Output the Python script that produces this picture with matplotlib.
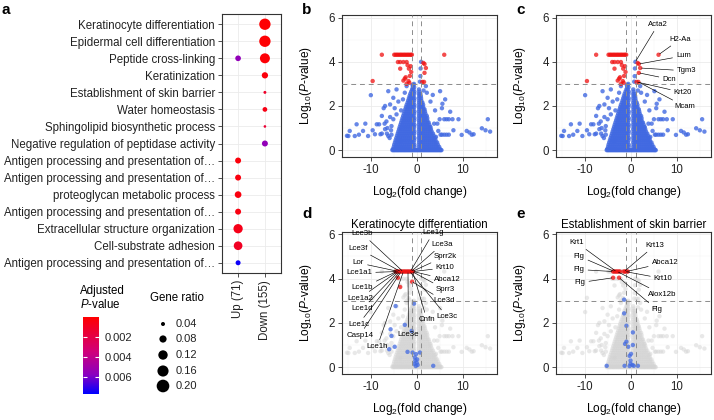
import numpy as np
import matplotlib
matplotlib.use("Agg")
import matplotlib.pyplot as plt
from matplotlib.colors import LinearSegmentedColormap, Normalize
from matplotlib.cm import ScalarMappable

plt.rcParams['font.family'] = ['Liberation Sans', 'DejaVu Sans']
plt.rcParams['mathtext.fontset'] = 'custom'
plt.rcParams['mathtext.rm'] = 'Liberation Sans'
plt.rcParams['mathtext.it'] = 'Liberation Sans:italic'
plt.rcParams['axes.unicode_minus'] = False

# ---------------- panel a : GO terms ----------------
terms = ["Keratinocyte differentiation",
         "Epidermal cell differentiation",
         "Peptide cross-linking",
         "Keratinization",
         "Establishment of skin barrier",
         "Water homeostasis",
         "Sphingolipid biosynthetic process",
         "Negative regulation of peptidase activity",
         "Antigen processing and presentation of\u2026",
         "Antigen processing and presentation of\u2026",
         "proteoglycan metabolic process",
         "Antigen processing and presentation of\u2026",
         "Extracellular structure organization",
         "Cell-substrate adhesion",
         "Antigen processing and presentation of\u2026"]
groups = ["Up (71)", "Down (155)"]
up_ratio = [None, None, 0.058, None, None, None, None, None,
            0.062, 0.062, 0.072, 0.062, 0.118, 0.106, 0.050]
up_padj = [None, None, 0.0055, None, None, None, None, None,
           0.0003, 0.0004, 0.0004, 0.0005, 0.0007, 0.0010, 0.0075]
down_ratio = [0.165, 0.165, 0.133, 0.066, 0.032, 0.047, 0.030, 0.062,
              None, None, None, None, None, None, None]
down_padj = [0.0001, 0.0001, 0.0002, 0.0003, 0.0012, 0.0006, 0.0015, 0.0055,
             None, None, None, None, None, None, None]
legend_ratios = [0.04, 0.08, 0.12, 0.16, 0.20]
cbar_ticks = [0.002, 0.004, 0.006]

# ---------------- volcano data (log2FC, -log10 P) ----------------
bottom_row_x = [-5.3, -5.05, -4.8, -4.55, -4.3, -4.05, -3.8, -3.55, -3.3, -3.05,
                -2.8, -2.55, -2.3, -2.05, -1.8, -1.55, -1.3, -1.05, -0.8, -0.55,
                -0.3, -0.05, 0.2, 0.45, 0.7, 0.95, 1.2, 1.45, 1.7, 1.95,
                2.2, 2.45, 2.7, 2.95, 3.2, 3.45, 3.7, 3.95, 4.2, 4.45,
                4.7, 4.95, 5.2, 5.4]
core_levels = [0.05, 0.15, 0.25, 0.35, 0.45, 0.55, 0.65, 0.75, 0.85, 0.95,
               1.05, 1.15, 1.25, 1.35, 1.45, 1.55, 1.65, 1.75, 1.85, 1.95,
               2.05, 2.15, 2.25, 2.35, 2.45, 2.55, 2.65, 2.75, 2.85, 2.95]
core_left = [
    [-5.2, -4.75, -4.3, -3.85, -3.4, -2.95, -2.5, -2.05, -1.6, -1.15, -0.7],
    [-5.0, -4.55, -4.1, -3.65, -3.2, -2.75, -2.3, -1.85, -1.4, -0.95, -0.5],
    [-4.9, -4.45, -4.0, -3.55, -3.1, -2.65, -2.2, -1.75, -1.3, -0.85, -0.5],
    [-4.75, -4.3, -3.85, -3.4, -2.95, -2.5, -2.05, -1.6, -1.15, -0.7],
    [-4.6, -4.15, -3.7, -3.25, -2.8, -2.35, -1.9, -1.45, -1.0, -0.55],
    [-4.45, -4.0, -3.55, -3.1, -2.65, -2.2, -1.75, -1.3, -0.85, -0.5],
    [-4.3, -3.85, -3.4, -2.95, -2.5, -2.05, -1.6, -1.15, -0.7],
    [-4.15, -3.7, -3.25, -2.8, -2.35, -1.9, -1.45, -1.0, -0.55],
    [-4.0, -3.55, -3.1, -2.65, -2.2, -1.75, -1.3, -0.85, -0.5],
    [-3.85, -3.4, -2.95, -2.5, -2.05, -1.6, -1.15, -0.7],
    [-3.7, -3.25, -2.8, -2.35, -1.9, -1.45, -1.0, -0.55],
    [-3.55, -3.1, -2.65, -2.2, -1.75, -1.3, -0.85, -0.5],
    [-3.4, -2.95, -2.5, -2.05, -1.6, -1.15, -0.7],
    [-3.25, -2.8, -2.35, -1.9, -1.45, -1.0, -0.55],
    [-3.1, -2.65, -2.2, -1.75, -1.3, -0.85, -0.5],
    [-2.95, -2.5, -2.05, -1.6, -1.15, -0.7],
    [-2.8, -2.35, -1.9, -1.45, -1.0, -0.55],
    [-2.65, -2.2, -1.75, -1.3, -0.85, -0.5],
    [-2.5, -2.05, -1.6, -1.15, -0.7],
    [-2.35, -1.9, -1.45, -1.0, -0.55],
    [-2.2, -1.75, -1.3, -0.85, -0.5],
    [-2.0, -1.6, -1.15, -0.7],
    [-1.85, -1.45, -1.0, -0.55],
    [-1.7, -1.3, -0.85, -0.5],
    [-1.55, -1.15, -0.7],
    [-1.4, -1.0, -0.55],
    [-1.2, -0.85, -0.5],
    [-1.0, -0.7],
    [-0.85, -0.55],
    [-0.7],
]
core_right = [
    [0.6, 1.05, 1.5, 1.95, 2.4, 2.85, 3.3, 3.75, 4.2, 4.65, 5.1],
    [0.5, 0.95, 1.4, 1.85, 2.3, 2.75, 3.2, 3.65, 4.1, 4.55, 4.9],
    [0.55, 1.0, 1.45, 1.9, 2.35, 2.8, 3.25, 3.7, 4.15, 4.6],
    [0.5, 0.95, 1.4, 1.85, 2.3, 2.75, 3.2, 3.65, 4.1, 4.45],
    [0.55, 1.0, 1.45, 1.9, 2.35, 2.8, 3.25, 3.7, 4.1],
    [0.5, 0.95, 1.4, 1.85, 2.3, 2.75, 3.2, 3.65, 4.0],
    [0.55, 1.0, 1.45, 1.9, 2.35, 2.8, 3.25, 3.7],
    [0.5, 0.95, 1.4, 1.85, 2.3, 2.75, 3.2, 3.55],
    [0.55, 1.0, 1.45, 1.9, 2.35, 2.8, 3.25],
    [0.5, 0.95, 1.4, 1.85, 2.3, 2.75, 3.1],
    [0.55, 1.0, 1.45, 1.9, 2.35, 2.8, 3.0],
    [0.5, 0.95, 1.4, 1.85, 2.3, 2.75],
    [0.55, 1.0, 1.45, 1.9, 2.35, 2.6],
    [0.5, 0.95, 1.4, 1.85, 2.3],
    [0.55, 1.0, 1.45, 1.9, 2.3],
    [0.5, 0.95, 1.4, 1.85, 2.2],
    [0.55, 1.0, 1.45, 1.9],
    [0.5, 0.95, 1.4, 1.8],
    [0.55, 1.0, 1.45, 1.7],
    [0.5, 0.95, 1.4],
    [0.55, 1.0, 1.4],
    [0.5, 0.95, 1.25],
    [0.55, 1.0],
    [0.5, 0.95],
    [0.55, 0.9],
    [0.5, 0.8],
    [0.55],
    [0.5],
    [],
    [],
]
scatter_left = [(-15.2, 0.65), (-14.9, 0.64), (-14.6, 0.87), (-13.5, 0.64), (-13.1, 1.17),
                (-12.6, 0.70), (-11.7, 0.87), (-11.2, 1.20), (-10.6, 0.64), (-10.0, 2.49),
                (-9.6, 0.90), (-9.1, 0.72), (-8.7, 1.17), (-8.2, 1.17), (-7.9, 0.72),
                (-7.6, 1.55), (-7.6, 0.75), (-7.2, 1.90), (-6.9, 2.00), (-6.9, 0.95),
                (-6.6, 1.30), (-6.2, 2.67), (-6.2, 0.64), (-5.8, 2.07), (-5.8, 1.50),
                (-5.5, 1.09), (-5.5, 0.70), (-5.1, 2.37), (-5.1, 1.40), (-4.8, 1.90),
                (-4.4, 2.75), (-4.4, 1.62), (-4.0, 2.20), (-3.6, 0.42), (-3.4, 1.80),
                (-3.0, 2.30), (-2.6, 2.60), (-2.2, 2.90), (-6.4, 1.00), (-7.0, 1.20),
                (-5.6, 0.90), (-5.9, 0.55), (-6.5, 0.75), (-0.6, 3.00), (-0.9, 2.95)]
scatter_right = [(5.1, 2.67), (6.2, 2.30), (5.6, 2.10), (7.3, 1.74), (5.5, 1.90),
                 (6.5, 1.40), (9.1, 1.40), (15.5, 1.40), (10.9, 0.87), (12.4, 0.72),
                 (14.2, 0.99), (16.0, 0.84), (9.8, 0.69), (4.7, 0.87), (5.0, 1.40),
                 (6.0, 1.40), (7.0, 1.40), (7.8, 1.40), (4.5, 1.20), (5.2, 0.70),
                 (5.5, 0.70), (6.0, 0.70), (6.5, 0.70), (7.0, 0.70), (8.0, 0.90),
                 (12.0, 0.70), (11.5, 0.80), (15.0, 0.90), (3.5, 2.50), (3.0, 2.20),
                 (2.2, 2.60), (4.0, 1.80), (3.8, 1.20), (4.2, 0.60), (1.5, 2.70),
                 (2.0, 2.90), (0.95, 4.00), (0.85, 3.70), (0.80, 3.35), (0.70, 3.10)]
sig_down = [(-7.6, 4.32), (-4.9, 4.32), (-4.6, 4.32), (-4.3, 4.32), (-4.0, 4.32),
            (-3.7, 4.32), (-3.4, 4.32), (-3.1, 4.32), (-2.8, 4.32), (-2.5, 4.32),
            (-2.2, 4.32), (-1.9, 4.32), (-1.6, 4.32), (-1.3, 4.32), (-1.05, 4.32),
            (-4.1, 3.99), (-3.6, 3.99), (-2.9, 3.99), (-2.2, 3.99), (-1.7, 3.69),
            (-3.6, 3.69), (-2.6, 3.24), (-2.2, 3.00), (-1.5, 3.36), (-1.2, 3.54),
            (-9.6, 3.13), (-1.8, 3.13), (-1.3, 3.80), (-2.0, 3.85), (-2.4, 3.30),
            (-1.6, 3.05), (-2.9, 3.15)]
sig_up = [(6.0, 4.32), (1.45, 3.95), (1.7, 3.90), (2.0, 3.72), (1.7, 3.50),
          (1.2, 3.09), (1.6, 3.09)]

# panel c labels: name, label position, labelled point
c_names = ["Acta2", "H2-Aa", "Lum", "Tgm3", "Dcn", "Krt20", "Mcam"]
c_text = [(5.9, 5.69), (10.7, 5.02), (11.4, 4.27), (12.1, 3.59), (8.3, 3.22), (11.3, 2.61), (11.8, 1.97)]
c_point = [(0.95, 4.00), (6.0, 4.32), (1.7, 3.90), (2.0, 3.72), (1.7, 3.50), (1.2, 3.09), (1.6, 3.09)]

# panel d: keratinocyte differentiation genes
d_red = [(-4.6, 4.32), (-4.3, 4.32), (-4.0, 4.32), (-3.7, 4.32), (-3.4, 4.32), (-3.1, 4.32),
         (-2.8, 4.32), (-2.5, 4.32), (-2.2, 4.32), (-1.9, 4.32), (-1.6, 4.32), (-1.3, 4.32),
         (-1.0, 4.32), (-0.8, 4.32), (-4.1, 4.04), (-3.6, 3.62), (-1.0, 3.86)]
d_blue = [(-4.6, 2.76), (-5.7, 1.71), (-5.5, 1.41), (-6.0, 0.81), (-4.8, 0.92), (-2.6, 1.91),
          (-0.6, 2.87), (-1.1, 1.64), (-2.0, 0.69), (-0.9, 0.66), (-0.4, 0.44), (-0.3, 0.30),
          (0.0, 0.20), (0.2, 0.10), (-0.2, 0.05), (0.1, 0.35), (3.6, 0.06), (0.7, 0.66),
          (-0.5, 0.15), (-0.15, 0.59)]
d_names = ["Lce3b", "Lce3f", "Lor", "Lce1a1", "Lce1b", "Lce1a2", "Lce1d", "Lce1c",
           "Casp14", "Lce1h", "Lce3e", "Cnfn", "Lce1g", "Lce3a", "Sprr2k", "Krt10",
           "Abca12", "Sprr3", "Lce3d", "Lce3c"]
d_text = [(-11.8, 6.02), (-12.7, 5.36), (-12.7, 4.71), (-12.5, 4.26), (-11.8, 3.59),
          (-12.4, 3.12), (-11.8, 2.64), (-12.7, 1.94), (-12.4, 1.44), (-8.6, 0.93),
          (-1.8, 1.49), (2.2, 2.16), (3.6, 6.07), (5.5, 5.54), (6.2, 5.01),
          (6.2, 4.49), (6.6, 3.96), (6.2, 3.51), (6.0, 2.99), (6.6, 2.28)]
d_point = [(-3.0, 4.32), (-3.5, 4.32), (-3.9, 4.32), (-4.2, 4.32), (-4.4, 4.32),
           (-4.2, 4.32), (-4.0, 4.32), (-3.7, 4.32), (-3.4, 4.32), (-2.9, 4.32),
           (-1.9, 4.32), (-0.9, 4.32), (-1.4, 4.32), (-1.2, 4.32), (-1.0, 4.32),
           (-0.8, 4.32), (-0.8, 4.32), (-1.0, 4.32), (-1.0, 3.86), (-1.5, 4.32)]

# panel e: skin barrier genes
e_red = [(-3.9, 4.32), (-3.6, 4.32), (-3.3, 4.32), (-3.0, 4.32), (-2.7, 4.32), (-2.4, 4.32),
         (-1.6, 4.32), (-1.3, 4.32), (-1.0, 4.32), (-0.7, 4.32), (-3.9, 4.04), (-2.6, 4.04)]
e_blue = [(-1.5, 3.05), (-1.5, 2.43), (-1.0, 1.87), (-1.0, 1.15), (-1.3, 1.05), (-0.6, 0.92),
          (0.4, 1.57), (0.4, 1.00), (-0.3, 0.51), (-0.1, 0.30), (-0.1, 0.15), (0.3, 0.10),
          (-0.3, 0.05), (-1.4, 0.06), (-5.3, 0.06), (1.5, 0.06), (0.6, 0.06), (0.0, 0.60)]
e_names = ["Krt1", "Flg", "Flg", "Flg", "Krt13", "Abca12", "Krt10", "Alox12b", "Flg"]
e_text = [(-11.8, 5.62), (-11.3, 5.01), (-11.3, 4.41), (-11.1, 3.82), (5.2, 5.50),
          (7.4, 4.72), (7.0, 4.00), (6.7, 3.29), (5.6, 2.61)]
e_point = [(-3.2, 4.32), (-3.6, 4.32), (-3.9, 4.32), (-3.9, 4.04), (-1.5, 4.32),
           (-1.0, 4.32), (-1.3, 4.32), (-3.0, 4.32), (-2.6, 4.04)]

# ---------------- build point sets ----------------
bg_x = list(bottom_row_x)
bg_y = [0.0 for _ in bottom_row_x]
for lev, xs in zip(core_levels, core_left):
    bg_x += xs
    bg_y += [lev] * len(xs)
for lev, xs in zip(core_levels, core_right):
    bg_x += xs
    bg_y += [lev] * len(xs)
for x, y in scatter_left + scatter_right:
    bg_x.append(x)
    bg_y.append(y)
sig = np.array(sig_down + sig_up)
all_x = np.array(bg_x + list(sig[:, 0]))
all_y = np.array(bg_y + list(sig[:, 1]))

BLUE = '#4169E1'
RED = '#F01010'
GREY = '#D3D3D3'
PT = 10

fig = plt.figure(figsize=(7.14, 4.2), dpi=100)


def volcano_axes(rect, title=None):
    ax = fig.add_axes(rect)
    ax.set_xlim(-16.35, 17.5)
    ax.set_ylim(-0.31, 6.12)
    ax.set_xticks([-10, 0, 10])
    ax.set_yticks([0, 2, 4, 6])
    ax.set_xticks([-15, -5, 5, 15], minor=True)
    ax.set_yticks([1, 3, 5], minor=True)
    ax.grid(which='major', color='#EBEBEB', lw=0.6)
    ax.grid(which='minor', color='#F3F3F3', lw=0.35)
    ax.set_axisbelow(True)
    ax.tick_params(which='minor', length=0)
    ax.tick_params(which='major', length=3, width=0.6, color='#333333',
                   labelsize=8.3, labelcolor='#222222', pad=2)
    for s in ax.spines.values():
        s.set_color('#333333')
        s.set_linewidth(0.8)
    ax.set_xlabel(r'Log$_2$(fold change)', fontsize=8.6)
    ax.set_ylabel(r'Log$_{10}$($P$-value)', fontsize=8.6)
    ax.xaxis.set_label_coords(0.5, -0.19)
    ax.yaxis.set_label_coords(-0.18, 0.5)
    if title:
        ax.set_title(title, fontsize=8.3, pad=3)
    return ax


def thresholds(ax):
    dash = dict(color='#8C8C8C', lw=0.7, ls=(0, (5, 4)), zorder=4)
    ax.axvline(-1, **dash)
    ax.axvline(1, **dash)
    ax.axhline(3, **dash)


def label_genes(ax, names, texts, points, size):
    for name, (tx, ty), (px, py) in zip(names, texts, points):
        ax.annotate(name, xy=(px, py), xytext=(tx, ty), fontsize=size,
                    ha='center', va='center', zorder=6,
                    arrowprops=dict(arrowstyle='-', lw=0.45, color='black',
                                    shrinkA=0.5, shrinkB=1))


b_rect = [341.7 / 714, 263 / 420, 155.3 / 714, 142 / 420]
c_rect = [556 / 714, 263 / 420, 155.3 / 714, 142 / 420]
d_rect = [341.7 / 714, 46 / 420, 155.3 / 714, 142.3 / 420]
e_rect = [556 / 714, 46 / 420, 155.3 / 714, 142.3 / 420]

for rect, labelled in [(b_rect, False), (c_rect, True)]:
    ax = volcano_axes(rect)
    ax.scatter(bg_x, bg_y, s=PT, color=BLUE, alpha=0.8, edgecolors='none', zorder=2)
    ax.scatter(sig[:, 0], sig[:, 1], s=PT, color=RED, alpha=0.75, edgecolors='none', zorder=3)
    thresholds(ax)
    if labelled:
        label_genes(ax, c_names, c_text, c_point, 5.5)

for rect, title, red, blue, names, texts, points in [
        (d_rect, "Keratinocyte differentiation", d_red, d_blue, d_names, d_text, d_point),
        (e_rect, "Establishment of skin barrier", e_red, e_blue, e_names, e_text, e_point)]:
    ax = volcano_axes(rect, title)
    ax.scatter(all_x, all_y, s=PT, color=GREY, alpha=0.5, edgecolors='none', zorder=2)
    b = np.array(blue)
    r = np.array(red)
    ax.scatter(b[:, 0], b[:, 1], s=PT, color=BLUE, alpha=0.75, edgecolors='none', zorder=3)
    ax.scatter(r[:, 0], r[:, 1], s=PT, color=RED, alpha=0.75, edgecolors='none', zorder=3)
    thresholds(ax)
    label_genes(ax, names, texts, points, 5.7)

# ---------------- panel a ----------------
cmap = LinearSegmentedColormap.from_list(
    'padj', [(0.0, '#FF0000'), (0.45, '#D0007A'), (0.75, '#8A00C0'), (1.0, '#0000FF')])
norm = Normalize(0.0, 0.0077)


def dot_size(r):
    return 466.6 * np.asarray(r, dtype=float) - 10.4


axa = fig.add_axes([222 / 714, 147 / 420, 59 / 714, 259 / 420])
rows = np.arange(1, len(terms) + 1)
for col, ratios, padj in [(1, up_ratio, up_padj), (2, down_ratio, down_padj)]:
    idx = [i for i, v in enumerate(ratios) if v is not None]
    axa.scatter([col] * len(idx), rows[idx], s=dot_size([ratios[i] for i in idx]),
                c=[padj[i] for i in idx], cmap=cmap, norm=norm,
                edgecolors='none', zorder=3)
axa.set_xlim(0.4, 2.6)
axa.set_ylim(15.6, 0.4)
axa.set_xticks([1, 2])
axa.set_xticklabels(groups, rotation=90, fontsize=8.3, color='#222222')
axa.set_yticks(rows)
axa.set_yticklabels(terms, fontsize=8.3, color='#222222')
axa.grid(color='#EBEBEB', lw=0.6)
axa.set_axisbelow(True)
axa.tick_params(length=3, width=0.6, color='#333333', pad=2)
for s in axa.spines.values():
    s.set_color('#333333')
    s.set_linewidth(0.8)

# colour bar legend
cax = fig.add_axes([83 / 714, 26 / 420, 16 / 714, 77 / 420])
cb = fig.colorbar(ScalarMappable(norm=norm, cmap=cmap), cax=cax, ticks=cbar_ticks)
cax.invert_yaxis()
cb.outline.set_visible(False)
cb.set_ticklabels(['%.3f' % t for t in cbar_ticks])
cax.tick_params(direction='in', color='white', length=3, width=0.8,
                labelsize=8, labelcolor='#222222', pad=4, left=True, right=True)
fig.text(80 / 714, 1 - 298 / 420, 'Adjusted\n$P$-value', ha='left', va='center',
         fontsize=8.3, linespacing=1.1)

# size legend
lax = fig.add_axes([0, 0, 1, 1])
lax.set_xlim(0, 714)
lax.set_ylim(420, 0)
lax.axis('off')
leg_y = [324, 339, 355, 371, 386]
lax.scatter([163] * len(legend_ratios), leg_y, s=dot_size(legend_ratios),
            color='black', edgecolors='none')
for r, y in zip(legend_ratios, leg_y):
    lax.text(176, y, '%.2f' % r, va='center', ha='left', fontsize=8, color='#222222')
lax.text(150, 298, 'Gene ratio', va='center', ha='left', fontsize=8.3)

# panel letters
for letter, x, y in [('a', 1, 10), ('b', 302, 10), ('c', 516, 10), ('d', 302, 214), ('e', 516, 214)]:
    lax.text(x, y, letter, fontsize=11, fontweight='bold', va='center', ha='left')

fig.savefig('out.png', dpi=100)
